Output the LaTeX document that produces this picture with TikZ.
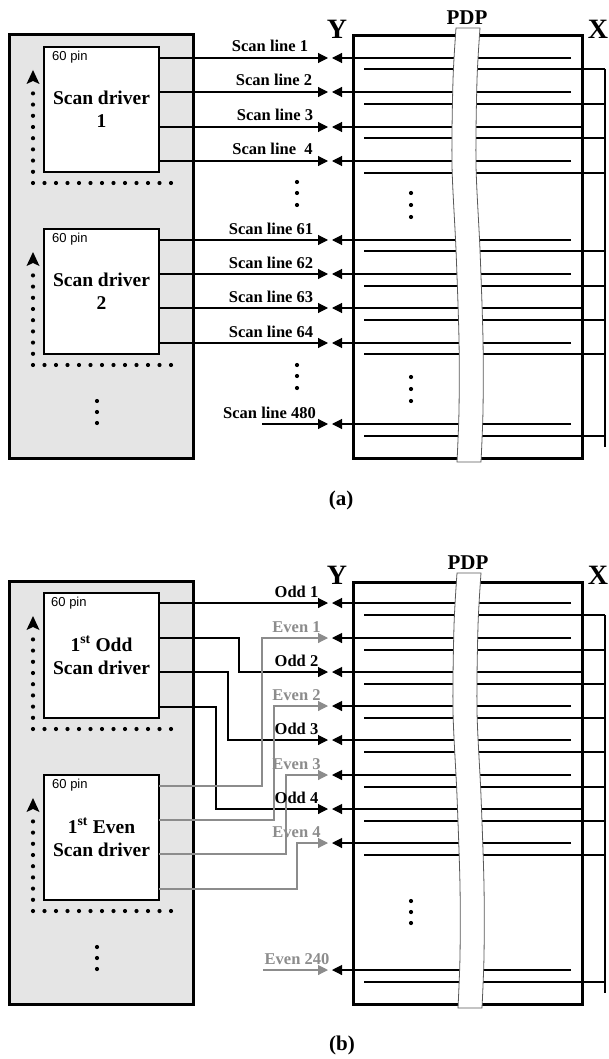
\documentclass[tikz,border=0pt]{standalone}
\usepackage{fontspec}
\setmainfont{Liberation Serif}
\newfontfamily\pinfont{Liberation Sans}
\usetikzlibrary{arrows.meta,calc}

\definecolor{boardgray}{gray}{0.9}
\definecolor{evengray}{gray}{0.55}
\definecolor{stripedge}{gray}{0.35}

\tikzset{
  board/.style={fill=boardgray, draw=black, line width=3pt},
  panelbox/.style={draw=black, line width=3pt},
  driver/.style={draw=black, fill=white, line width=1.3pt, minimum width=115pt,
    minimum height=125pt, inner sep=0pt, outer sep=0pt, align=center,
    anchor=north west, font=\bfseries\fontsize{19.5}{23}\selectfont},
  pinlbl/.style={font=\pinfont\fontsize{13}{15}\selectfont, inner sep=0pt, anchor=base west},
  sig/.style={line width=1.1pt, -{Triangle[length=10pt,width=10pt]}},
  evensig/.style={sig, color=evengray},
  rowline/.style={line width=1.1pt, -{Triangle[length=10pt,width=10pt]}},
  xline/.style={line width=1.1pt},
  siglbl/.style={font=\bfseries\fontsize{16.5}{19}\selectfont, inner sep=0pt, anchor=base},
  evenlbl/.style={siglbl, text=evengray},
  bigletter/.style={font=\bfseries\fontsize{28}{30}\selectfont, inner sep=0pt},
  pdplbl/.style={font=\bfseries\fontsize{21}{24}\selectfont, inner sep=0pt},
  caplbl/.style={font=\bfseries\fontsize{21}{24}\selectfont, inner sep=0pt},
  strip/.style={fill=white, draw=stripedge, line width=0.8pt},
}

% dotted scan-order path with arrow beside a driver box
\newcommand{\scanorder}[1]{%
  \foreach \k in {0,...,12}
    \fill ($(#1.south west)+(-11+\k*11.5,11)$) circle (2.1);
  \foreach \j in {1,...,8}
    \fill ($(#1.south west)+(-11,11-\j*11.2)$) circle (2.1);
  \fill ($(#1.south west)+(-11,-102)$) -- ++(6.5,14) -- ++(-6.5,-3) -- ++(-6.5,3) -- cycle;
}

\begin{document}
\begin{tikzpicture}[x=1pt,y=-1pt]
\useasboundingbox (0,0) rectangle (609,1059);

% ---------- common frame of both panels ----------
\foreach \off/\tag in {0/a,546/b}{
\begin{scope}[yshift=-\off pt]
  \draw[board] (9,35) rectangle (193,458);
  \draw[panelbox] (353,36) rectangle (582,458);
  % vertical X bus
  \draw[xline] (605,69) -- (605,447);
  % dots in board
  \foreach \d in {401,412,423} \fill (97,\d) circle (2.1);
  % labels of electrodes
  \node[bigletter] (Y\tag) at (337,29) {Y};
  \node[bigletter] (X\tag) at (598,29) {X};
\end{scope}
}

% ================= panel (a) =================
\node[driver] (drvA) at (44,47) {Scan driver\\1};
\node[driver] (drvB) at (44,229) {Scan driver\\2};
\node[pinlbl] at (52,61) {60 pin};
\node[pinlbl] at (52,243) {60 pin};
\scanorder{drvA}
\scanorder{drvB}

\foreach \y/\txt/\cx in {58/{Scan line 1}/270, 92/{Scan line 2}/274,
  127/{Scan line 3}/275, 161/{Scan line\ \ 4}/272.5}{
  \draw[sig] (drvA.east |- 0,\y) -- (328,\y);
  \node[siglbl] at (\cx,\y-6) {\txt};
}
\foreach \y/\txt in {240/{Scan line 61}, 274/{Scan line 62},
  308/{Scan line 63}, 343/{Scan line 64}}{
  \draw[sig] (drvB.east |- 0,\y) -- (328,\y);
  \node[siglbl] at (271,\y-6) {\txt};
}
\coordinate (inA) at (262,424);
\draw[sig] (inA) -- (328,424);
\node[siglbl] at (269.5,418) {Scan line 480};

% panel rows and X lines
\foreach \y/\e in {58/571,92/571,127/582,161/571,240/571,274/571,308/582,343/571,424/571}
  \draw[rowline] (\e,\y) -- (332,\y);
\foreach \y in {69,104,138,173,251,286,320,354,436}
  \draw[xline] (364,\y) -- (605,\y);
\foreach \d in {182,193,205,365,376,388} \fill (297,\d) circle (2.1);
\foreach \d in {193,205,217,377,389,401} \fill (411,\d) circle (2.1);

\filldraw[strip] plot[smooth] coordinates {(456,28) (453,80) (452,165) (456,250) (459,340) (459,410) (457,462)}
  -- plot[smooth] coordinates {(481,462) (483,410) (483,340) (480,250) (476,165) (477,80) (480,28)} -- cycle;
\node[pdplbl] (pdpA) at (467,18) {PDP};
\node[caplbl] (capA) at (341,500) {(a)};

% ================= panel (b) =================
\begin{scope}[yshift=-546pt]
\node[driver] (drvO) at (44,47) {1\textsuperscript{st} Odd\\Scan driver};
\node[driver] (drvE) at (44,229) {1\textsuperscript{st} Even\\Scan driver};
\node[pinlbl] at (51,60) {60 pin};
\node[pinlbl] at (52,242) {60 pin};
\scanorder{drvO}
\scanorder{drvE}

% odd driver outputs
\draw[sig] (drvO.east |- 0,57) -- (328,57);
\draw[sig] (drvO.east |- 0,92) -| (239,126) -- (328,126);
\draw[sig] (drvO.east |- 0,126) -| (228,194) -- (328,194);
\draw[sig] (drvO.east |- 0,161) -| (216,263) -- (328,263);
% even driver outputs
\draw[evensig] (drvE.east |- 0,240) -| (262,92) -- (328,92);
\draw[evensig] (drvE.east |- 0,274) -| (274,160) -- (328,160);
\draw[evensig] (drvE.east |- 0,308) -| (286,229) -- (328,229);
\draw[evensig] (drvE.east |- 0,343) -| (297,297) -- (328,297);
\coordinate (inB) at (263,424);
\draw[evensig] (inB) -- (328,424);

\node[siglbl] at (296.5,51) {Odd 1};
\node[evenlbl] at (296.5,86) {Even 1};
\node[siglbl] at (296.5,120) {Odd 2};
\node[evenlbl] at (296.5,154) {Even 2};
\node[siglbl] at (296.5,188) {Odd 3};
\node[evenlbl] at (296.5,223) {Even 3};
\node[siglbl] at (296.5,257) {Odd 4};
\node[evenlbl] at (296.5,291) {Even 4};
\node[evenlbl] at (297,418) {Even 240};

\foreach \y/\e in {57/571,92/571,126/582,160/571,194/571,229/571,263/582,297/571,424/571}
  \draw[rowline] (\e,\y) -- (332,\y);
\foreach \y in {69,104,138,172,206,241,275,309,436}
  \draw[xline] (364,\y) -- (605,\y);
\foreach \d in {355,366,377} \fill (411,\d) circle (2.1);

\filldraw[strip] plot[smooth] coordinates {(457,27) (454,80) (453,165) (457,250) (460,340) (460,410) (458,462)}
  -- plot[smooth] coordinates {(482,462) (484,410) (484,340) (481,250) (477,165) (478,80) (481,27)} -- cycle;
\node[pdplbl] (pdpB) at (468,17) {PDP};
\node[caplbl] (capB) at (342,499) {(b)};
\end{scope}
\end{tikzpicture}
\end{document}
